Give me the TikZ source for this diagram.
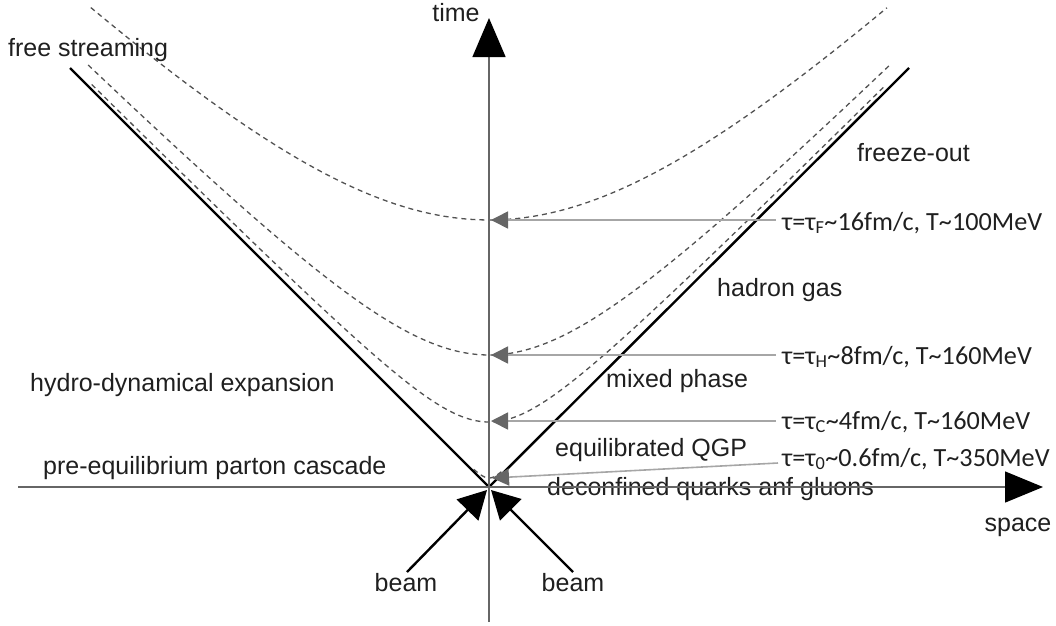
\documentclass[tikz,border=0pt]{standalone}
\usepackage{fontspec}
\setmainfont{Liberation Sans}
\newfontfamily\calib{Carlito}
\usetikzlibrary{arrows.meta}
\begin{document}
\begin{tikzpicture}[x=1pt,y=-1pt,
  lab/.style={font=\fontsize{25}{30}\selectfont, inner sep=0pt, anchor=west, text=black!88},
  clab/.style={font=\fontsize{25}{30}\selectfont, inner sep=0pt, text=black!88},
  taulab/.style={font=\calib\fontsize{26.2}{30}\selectfont, inner sep=0pt, anchor=west, text=black!88},
  axisline/.style={draw=black!60, line width=1.4pt},
  cone/.style={draw=black, line width=2.4pt},
  hyp/.style={draw=black!68, line width=1.3pt, dash pattern=on 5pt off 4pt},
  tauarrow/.style={draw=black!35, line width=1.6pt, -{Triangle[length=17pt,width=17pt,color=black!60]}},
  beamarrow/.style={draw=black, line width=2.4pt, -{Triangle[length=28pt,width=30pt,color=black]}},
]
\useasboundingbox (0,0) rectangle (1056,625);
% key points
\coordinate (O) at (489,487);
\coordinate (tbot) at (489,622);
\coordinate (ttop) at (489,18);
\coordinate (sleft) at (18,487);
\coordinate (sright) at (1043,487);
\coordinate (cl) at (70,68);
\coordinate (cr) at (909,68);
% hyperbolas
\draw[hyp] plot[domain=-1.19:1.19, samples=80, variable=\u] ({489+267*sinh(\u)}, {487-267*cosh(\u)});
\draw[hyp] plot[domain=-1.83:1.83, samples=100, variable=\u] ({489+132*sinh(\u)}, {487-132*cosh(\u)});
\draw[hyp] plot[domain=-2.51:2.51, samples=120, variable=\u] ({489+65*sinh(\u)}, {487-65*cosh(\u)});
\draw[hyp] plot[domain=-1.3:1.3, samples=30, variable=\u] ({489+9*sinh(\u)}, {487-9*cosh(\u)});
% light cone
\draw[cone] (cl) -- (O) -- (cr);
% labels
\node[lab] (free) at (8,50) {free streaming};
\node[lab] (freeze) at (857,153) {freeze-out};
\node[lab] (hadron) at (717,290) {hadron gas};
\node[lab] (mixed) at (606,381) {mixed phase};
\node[lab] (hydro) at (30,385) {hydro-dynamical expansion};
\node[lab] (equil) at (555,450) {equilibrated QGP};
\node[lab] (pre) at (43,468) {pre-equilibrium parton cascade};
\node[lab] (decon) at (547,489) {deconfined quarks anf gluons};
\node[clab] (time) at (456,13) {time};
\node[clab] (space) at (1018,527) {space};
\node[clab] (beamL) at (406,583) {beam};
\node[clab] (beamR) at (573,583) {beam};
% tau labels
\node[taulab] (tauF) at (782,223) {τ=τ\textsubscript{F}\textasciitilde 16fm/c, T\textasciitilde 100MeV};
\node[taulab] (tauH) at (782,357) {τ=τ\textsubscript{H}\textasciitilde 8fm/c, T\textasciitilde 160MeV};
\node[taulab] (tauC) at (782,422) {τ=τ\textsubscript{C}\textasciitilde 4fm/c, T\textasciitilde 160MeV};
\node[taulab] (tau0) at (782,459) {τ=τ\textsubscript{0}\textasciitilde 0.6fm/c, T\textasciitilde 350MeV};
% tau arrows
\coordinate (eF) at (776,220); \coordinate (aF) at (491,220);
\coordinate (eH) at (776,355); \coordinate (aH) at (491,355);
\coordinate (eC) at (776,421); \coordinate (aC) at (491,421);
\coordinate (e0) at (778,463); \coordinate (a0) at (492,478);
\draw[tauarrow] (eF) -- (aF);
\draw[tauarrow] (eH) -- (aH);
\draw[tauarrow] (eC) -- (aC);
\draw[tauarrow] (e0) -- (a0);
% axes
\draw[axisline, -{Triangle[length=39pt,width=33pt,color=black]}] (tbot) -- (ttop);
\draw[axisline, -{Triangle[length=38pt,width=31pt,color=black]}] (sleft) -- (sright);
% beams
\coordinate (bL) at (407,572); \coordinate (bLtip) at (487,490);
\coordinate (bR) at (573,572); \coordinate (bRtip) at (491,490);
\draw[beamarrow] (bL) -- (bLtip);
\draw[beamarrow] (bR) -- (bRtip);
\end{tikzpicture}
\end{document}
